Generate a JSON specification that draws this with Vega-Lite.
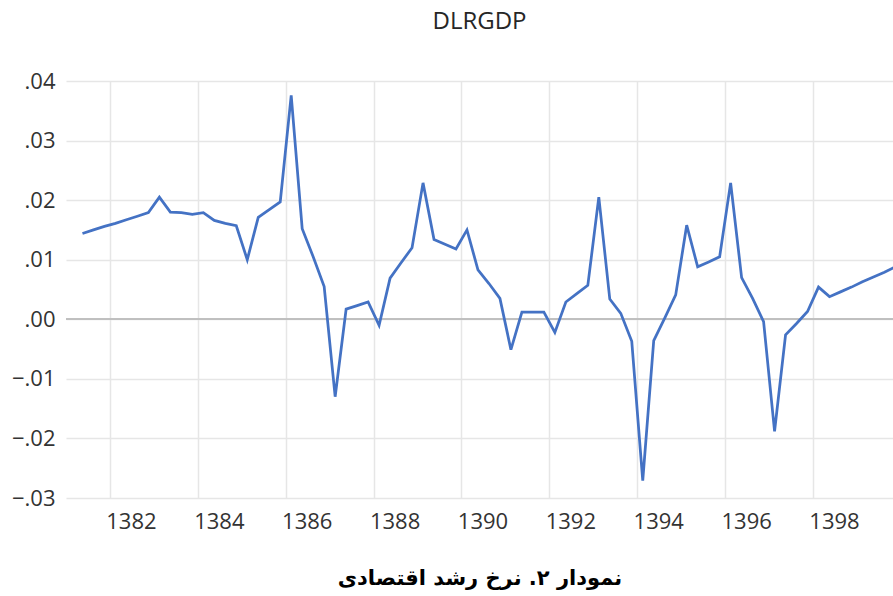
{
  "$schema": "https://vega.github.io/schema/vega-lite/v6.json",
  "width": 827,
  "height": 417,
  "autosize": {"type": "none"},
  "padding": {"left": 66, "top": 81, "right": 0, "bottom": 98},
  "background": "white",
  "title": {"text": "DLRGDP", "font": "Open Sans", "fontSize": 24, "fontWeight": "normal", "color": "#262626", "offset": 36, "anchor": "middle"},
  "config": {"view": {"stroke": null}},
  "data": {"values": [
    {"t": 1381.375, "v": 0.0144}, {"t": 1381.625, "v": 0.0150}, {"t": 1381.875, "v": 0.0156},
    {"t": 1382.125, "v": 0.0161}, {"t": 1382.375, "v": 0.0167}, {"t": 1382.625, "v": 0.0173}, {"t": 1382.875, "v": 0.0179},
    {"t": 1383.125, "v": 0.0205}, {"t": 1383.375, "v": 0.0180}, {"t": 1383.625, "v": 0.0179}, {"t": 1383.875, "v": 0.0176},
    {"t": 1384.125, "v": 0.0179}, {"t": 1384.375, "v": 0.0166}, {"t": 1384.625, "v": 0.0161}, {"t": 1384.875, "v": 0.0157},
    {"t": 1385.125, "v": 0.0100}, {"t": 1385.375, "v": 0.0171}, {"t": 1385.625, "v": 0.0184}, {"t": 1385.875, "v": 0.0197},
    {"t": 1386.125, "v": 0.0376}, {"t": 1386.375, "v": 0.0152}, {"t": 1386.625, "v": 0.0105}, {"t": 1386.875, "v": 0.0055},
    {"t": 1387.125, "v": -0.0130}, {"t": 1387.375, "v": 0.0017}, {"t": 1387.625, "v": 0.0023}, {"t": 1387.875, "v": 0.0029},
    {"t": 1388.125, "v": -0.0010}, {"t": 1388.375, "v": 0.0069}, {"t": 1388.625, "v": 0.0095}, {"t": 1388.875, "v": 0.0120},
    {"t": 1389.125, "v": 0.0229}, {"t": 1389.375, "v": 0.0134}, {"t": 1389.625, "v": 0.0126}, {"t": 1389.875, "v": 0.0118},
    {"t": 1390.125, "v": 0.0150}, {"t": 1390.375, "v": 0.0083}, {"t": 1390.625, "v": 0.0060}, {"t": 1390.875, "v": 0.0035},
    {"t": 1391.125, "v": -0.0051}, {"t": 1391.375, "v": 0.0012}, {"t": 1391.625, "v": 0.0012}, {"t": 1391.875, "v": 0.0012},
    {"t": 1392.125, "v": -0.0022}, {"t": 1392.375, "v": 0.0029}, {"t": 1392.625, "v": 0.0043}, {"t": 1392.875, "v": 0.0057},
    {"t": 1393.125, "v": 0.0205}, {"t": 1393.375, "v": 0.0034}, {"t": 1393.625, "v": 0.0010}, {"t": 1393.875, "v": -0.0037},
    {"t": 1394.125, "v": -0.0271}, {"t": 1394.375, "v": -0.0036}, {"t": 1394.625, "v": 0.0002}, {"t": 1394.875, "v": 0.0041},
    {"t": 1395.125, "v": 0.0158}, {"t": 1395.375, "v": 0.0088}, {"t": 1395.625, "v": 0.0096}, {"t": 1395.875, "v": 0.0105},
    {"t": 1396.125, "v": 0.0229}, {"t": 1396.375, "v": 0.0070}, {"t": 1396.625, "v": 0.0035}, {"t": 1396.875, "v": -0.0004},
    {"t": 1397.125, "v": -0.0188}, {"t": 1397.375, "v": -0.0026}, {"t": 1397.625, "v": -0.0007}, {"t": 1397.875, "v": 0.0013},
    {"t": 1398.125, "v": 0.0054}, {"t": 1398.375, "v": 0.0038}, {"t": 1398.625, "v": 0.0046}, {"t": 1398.875, "v": 0.0054},
    {"t": 1399.125, "v": 0.0063}, {"t": 1399.375, "v": 0.0071}, {"t": 1399.625, "v": 0.0079}, {"t": 1399.875, "v": 0.0088}
  ]},
  "layer": [
    {
      "mark": {"type": "rule", "color": "#bfbfbf", "strokeWidth": 1.5},
      "encoding": {"y": {"datum": 0, "type": "quantitative"}}
    },
    {
      "mark": {"type": "line", "color": "#4472C4", "strokeWidth": 2.75, "clip": true},
      "encoding": {
        "x": {
          "field": "t", "type": "quantitative",
          "scale": {"domain": [1381, 1399.82], "nice": false, "zero": false},
          "axis": {
            "values": [1382, 1384, 1386, 1388, 1390, 1392, 1394, 1396, 1398],
            "format": "d",
            "labelFont": "Open Sans", "labelFontSize": 22, "labelColor": "#333333",
            "labelOffset": 21, "labelPadding": 13, "labelFlush": false, "labelOverlap": false,
            "ticks": false, "domain": false,
            "grid": true, "gridColor": "#e6e6e6", "gridWidth": 1.5,
            "title": "نمودار ۲. نرخ رشد اقتصادی",
            "titleFont": "DejaVu Sans", "titleFontSize": 21, "titleFontWeight": "bold", "titleColor": "#000000",
            "titlePadding": 35
          }
        },
        "y": {
          "field": "v", "type": "quantitative",
          "scale": {"domain": [-0.03, 0.04], "nice": false},
          "axis": {
            "values": [-0.03, -0.02, -0.01, 0, 0.01, 0.02, 0.03, 0.04],
            "labelExpr": "replace(format(datum.value, '.2f'), '0.', '.')",
            "labelFont": "Open Sans", "labelFontSize": 22, "labelColor": "#333333",
            "labelPadding": 11, "labelFlush": false, "labelOverlap": false,
            "ticks": false, "domain": false,
            "grid": true, "gridColor": "#e6e6e6", "gridWidth": 1.5,
            "title": null
          }
        }
      }
    }
  ]
}
